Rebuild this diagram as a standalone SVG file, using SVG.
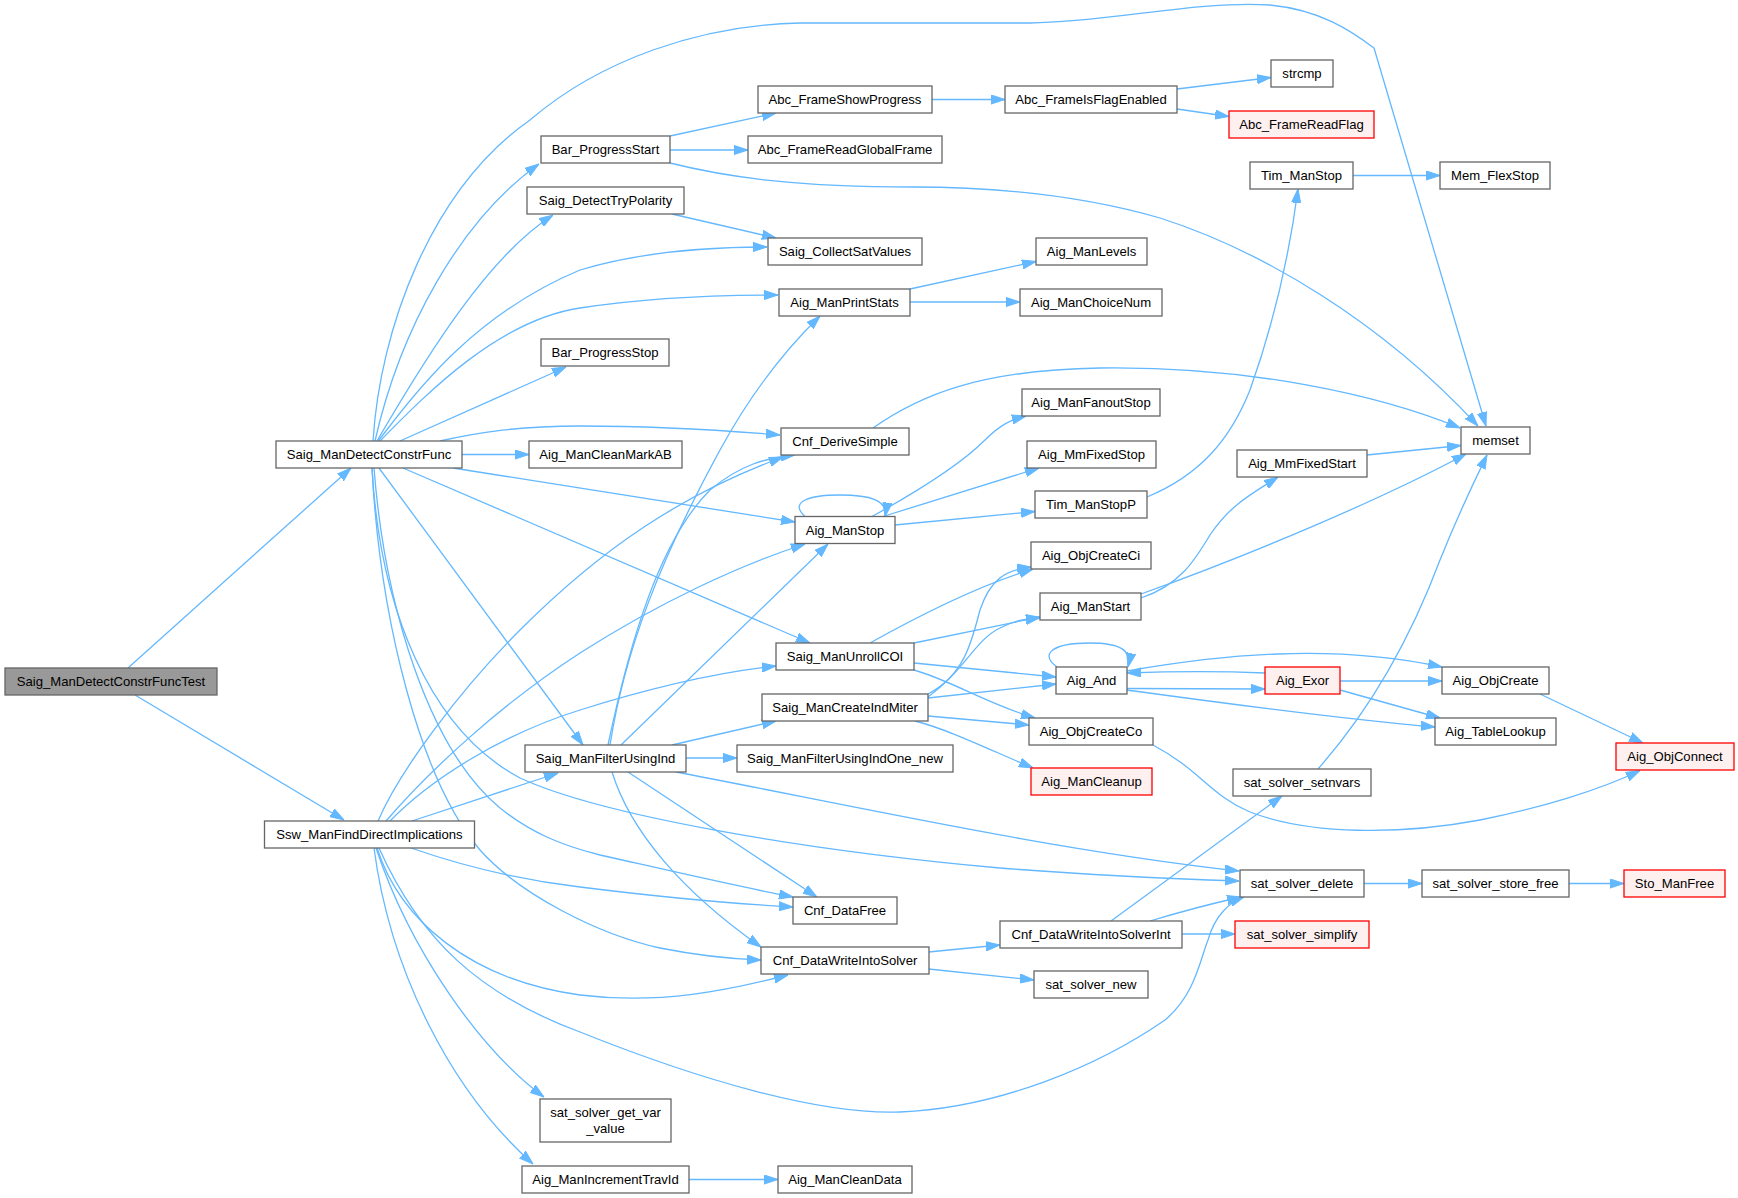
<svg xmlns="http://www.w3.org/2000/svg" width="1738" height="1198" viewBox="0 0 1738 1198">
<style>
.n rect{fill:#ffffff;stroke:#666666;stroke-width:1.3}
.r rect{fill:#fff0f0;stroke:#ff0000}
.root rect{fill:#999999}
text{font-family:"Liberation Sans",Arial,sans-serif;font-size:13.1px;text-anchor:middle;fill:#000000}
.e path{fill:none;stroke:#63b8ff;stroke-width:1.3;marker-end:url(#a)}
</style>
<defs>
<marker id="a" viewBox="0 0 14 10" refX="14" refY="5" markerWidth="14" markerHeight="10" markerUnits="userSpaceOnUse" orient="auto">
<path d="M0,0.4 L14,5 L0,9.6 Z" fill="#63b8ff" stroke="#63b8ff" stroke-width="1"/>
</marker>
</defs>
<rect width="1738" height="1198" fill="#ffffff"/>
<g id="edges" class="e">
<path d="M128,668 L351,468"/>
<path d="M135,695 L344,820"/>
<path d="M373,441 C380,330 430,190 530,120 C600,60 700,25 800,23 L1030,23 C1110,22 1200,0 1270,5 C1320,10 1350,30 1374,48 L1486,426"/>
<path d="M375,441 C400,330 460,220 539,164"/>
<path d="M377,441 C430,350 490,255 553,215"/>
<path d="M378,441 C400,415 460,320 580,270 C640,252 710,247 767,247"/>
<path d="M380,441 C430,390 500,320 580,308 C650,297 720,295 778,295"/>
<path d="M400,441 L566,367"/>
<path d="M440,441 C480,432 520,426 580,426 C660,426 720,430 780,435"/>
<path d="M462,454.5 L529,454.5"/>
<path d="M453,468 C500,476 600,492 795,522"/>
<path d="M403,468 L810,643"/>
<path d="M379,468 L583,745"/>
<path d="M372,468 C380,610 430,730 520,778 C600,815 800,850 1000,868 C1100,876 1180,879 1239,881"/>
<path d="M374,468 C385,610 430,750 500,808 C530,832 560,845 600,855 C680,873 740,887 793,897"/>
<path d="M372,468 C380,620 420,780 480,850 C520,895 600,935 660,948 C700,956 730,959 761,960"/>
<path d="M378,821 C400,770 460,690 520,630 C600,550 680,495 783,457"/>
<path d="M386,821 C430,770 500,705 580,653 C660,602 740,565 805,544"/>
<path d="M390,821 C430,780 500,735 580,710 C650,688 720,672 776,666"/>
<path d="M412,821 L558,773"/>
<path d="M411,848 C460,865 520,880 580,887 C660,897 720,903 793,907"/>
<path d="M377,848 C400,920 470,980 580,995 C660,1005 730,990 788,975"/>
<path d="M379,848 C420,940 480,995 580,1032 C700,1080 820,1115 900,1112 C1000,1108 1100,1065 1165,1020 C1195,995 1200,960 1208,940 C1215,915 1230,902 1244,897"/>
<path d="M376,848 C410,950 480,1050 544,1097"/>
<path d="M374,848 C390,970 450,1090 533,1164"/>
<path d="M610,745 C625,650 660,560 720,450 C750,395 785,350 820,316"/>
<path d="M608,745 C630,640 660,540 710,490 C740,465 765,458 795,455"/>
<path d="M621,745 L828,544"/>
<path d="M672,745 L776,721"/>
<path d="M686,758 L737,758"/>
<path d="M676,772 C850,805 1050,850 1239,871"/>
<path d="M628,772 L817,897"/>
<path d="M612,772 C630,830 680,890 761,947"/>
<path d="M670,136 L776,113"/>
<path d="M670,150 L748,150"/>
<path d="M670,163 C730,178 800,187 913,187 C1000,187 1080,195 1160,218 C1260,250 1380,320 1478,426"/>
<path d="M932,99.5 L1005,99.5"/>
<path d="M1177,89 L1271,77.5"/>
<path d="M1177,109 L1229,116.5"/>
<path d="M672,214 L776,238"/>
<path d="M910,289 L1036,261.5"/>
<path d="M910,302 L1020,302"/>
<path d="M873,428 C920,395 980,370 1100,368 C1250,366 1380,395 1460,428"/>
<path d="M805,516.5 C790,503 805,495 840,495 C870,495 888,500 885,516.5"/>
<path d="M872,516.5 C920,490 960,465 985,440 C1000,425 1010,420 1026,416"/>
<path d="M883,516.5 L1039,468"/>
<path d="M895,525 L1035,511.5"/>
<path d="M1147,497 C1200,475 1230,440 1250,390 C1275,320 1290,250 1298,189"/>
<path d="M1353,175.5 L1440,175.5"/>
<path d="M1367,455 L1461,445.5"/>
<path d="M1141,598 C1180,585 1195,560 1210,535 C1230,505 1250,495 1278,477"/>
<path d="M1141,594 C1250,555 1380,500 1466,454"/>
<path d="M870,643 C920,615 980,585 1033,569"/>
<path d="M914,643 L1040,617"/>
<path d="M914,663 L1056,677"/>
<path d="M914,670 C950,680 990,705 1035,718"/>
<path d="M928,694 C965,675 972,640 980,610 C990,580 1005,570 1031,567"/>
<path d="M928,697 C965,670 975,640 1000,628 C1015,620 1025,619 1040,618"/>
<path d="M928,698 L1056,684"/>
<path d="M928,716 L1029,725"/>
<path d="M915,721 C950,730 990,750 1033,768"/>
<path d="M1057,667 C1040,655 1050,643 1090,643 C1120,643 1132,650 1128,667"/>
<path d="M1127,688.5 L1265,689"/>
<path d="M1127,671 C1220,655 1330,643 1442,667"/>
<path d="M1127,690 C1200,700 1330,718 1435,727"/>
<path d="M1265,673 C1220,671 1180,671 1127,673"/>
<path d="M1340,681 L1442,681"/>
<path d="M1340,690 L1440,718"/>
<path d="M1540,694 L1643,743"/>
<path d="M1153,745 C1200,770 1210,795 1250,812 C1310,835 1400,835 1480,820 C1540,808 1600,790 1640,770.5"/>
<path d="M1318,769 C1370,710 1410,640 1440,560 C1460,510 1475,480 1487,455"/>
<path d="M928.5,952 L1000,945"/>
<path d="M928.5,969 L1034,980"/>
<path d="M1111,921 L1282,796"/>
<path d="M1150,921 C1180,912 1210,904 1241,897"/>
<path d="M1182,934 L1235,934"/>
<path d="M1364,883.5 L1422,883.5"/>
<path d="M1569,883.5 L1624,883.5"/>
<path d="M689,1179.5 L778,1179.5"/>
</g>
<g id="n0" class="n root"><rect x="5" y="668" width="212" height="27"/><text x="111" y="686.1">Saig_ManDetectConstrFuncTest</text></g>
<g id="n1" class="n"><rect x="276" y="441" width="186" height="27"/><text x="369" y="459.1">Saig_ManDetectConstrFunc</text></g>
<g id="n2" class="n"><rect x="264.5" y="821" width="210" height="27"/><text x="369.5" y="839.1">Ssw_ManFindDirectImplications</text></g>
<g id="n3" class="n"><rect x="541" y="136" width="129" height="27"/><text x="605.5" y="154.1">Bar_ProgressStart</text></g>
<g id="n4" class="n"><rect x="527" y="187" width="157" height="27"/><text x="605.5" y="205.1">Saig_DetectTryPolarity</text></g>
<g id="n5" class="n"><rect x="541" y="339" width="128" height="27"/><text x="605" y="357.1">Bar_ProgressStop</text></g>
<g id="n6" class="n"><rect x="529" y="441" width="153" height="27"/><text x="605.5" y="459.1">Aig_ManCleanMarkAB</text></g>
<g id="n7" class="n"><rect x="525" y="745" width="161" height="27"/><text x="605.5" y="763.1">Saig_ManFilterUsingInd</text></g>
<g id="n8" class="n"><rect x="540" y="1099" width="131" height="43"/><text x="605.5" y="1117">sat_solver_get_var</text><text x="605.5" y="1133">_value</text></g>
<g id="n9" class="n"><rect x="522" y="1166" width="167" height="27"/><text x="605.5" y="1184.1">Aig_ManIncrementTravId</text></g>
<g id="n10" class="n"><rect x="758" y="86" width="174" height="27"/><text x="845" y="104.1">Abc_FrameShowProgress</text></g>
<g id="n11" class="n"><rect x="748" y="136" width="194" height="27"/><text x="845" y="154.1">Abc_FrameReadGlobalFrame</text></g>
<g id="n12" class="n"><rect x="768" y="238" width="154" height="27"/><text x="845" y="256.1">Saig_CollectSatValues</text></g>
<g id="n13" class="n"><rect x="779" y="289" width="131" height="27"/><text x="844.5" y="307.1">Aig_ManPrintStats</text></g>
<g id="n14" class="n"><rect x="781" y="428" width="128" height="27"/><text x="845" y="446.1">Cnf_DeriveSimple</text></g>
<g id="n15" class="n"><rect x="795" y="516.5" width="100" height="27"/><text x="845" y="534.6">Aig_ManStop</text></g>
<g id="n16" class="n"><rect x="776" y="643" width="138" height="27"/><text x="845" y="661.1">Saig_ManUnrollCOI</text></g>
<g id="n17" class="n"><rect x="762" y="694" width="166" height="27"/><text x="845" y="712.1">Saig_ManCreateIndMiter</text></g>
<g id="n18" class="n"><rect x="737" y="745" width="216" height="27"/><text x="845" y="763.1">Saig_ManFilterUsingIndOne_new</text></g>
<g id="n19" class="n"><rect x="793" y="897" width="104" height="27"/><text x="845" y="915.1">Cnf_DataFree</text></g>
<g id="n20" class="n"><rect x="761" y="947" width="168" height="27"/><text x="845" y="965.1">Cnf_DataWriteIntoSolver</text></g>
<g id="n21" class="n"><rect x="778" y="1166" width="134" height="27"/><text x="845" y="1184.1">Aig_ManCleanData</text></g>
<g id="n22" class="n"><rect x="1005" y="86" width="172" height="27"/><text x="1091" y="104.1">Abc_FrameIsFlagEnabled</text></g>
<g id="n23" class="n"><rect x="1036" y="238" width="111" height="27"/><text x="1091.5" y="256.1">Aig_ManLevels</text></g>
<g id="n24" class="n"><rect x="1020" y="289" width="142" height="27"/><text x="1091" y="307.1">Aig_ManChoiceNum</text></g>
<g id="n25" class="n"><rect x="1022" y="389" width="138" height="27"/><text x="1091" y="407.1">Aig_ManFanoutStop</text></g>
<g id="n26" class="n"><rect x="1027" y="441" width="129" height="27"/><text x="1091.5" y="459.1">Aig_MmFixedStop</text></g>
<g id="n27" class="n"><rect x="1035" y="491" width="112" height="27"/><text x="1091" y="509.1">Tim_ManStopP</text></g>
<g id="n28" class="n"><rect x="1031" y="542" width="120" height="27"/><text x="1091" y="560.1">Aig_ObjCreateCi</text></g>
<g id="n29" class="n"><rect x="1040" y="593" width="101" height="27"/><text x="1090.5" y="611.1">Aig_ManStart</text></g>
<g id="n30" class="n"><rect x="1056" y="667" width="71" height="27"/><text x="1091.5" y="685.1">Aig_And</text></g>
<g id="n31" class="n"><rect x="1029" y="718" width="124" height="27"/><text x="1091" y="736.1">Aig_ObjCreateCo</text></g>
<g id="n32" class="n r"><rect x="1031" y="768" width="121" height="27"/><text x="1091.5" y="786.1">Aig_ManCleanup</text></g>
<g id="n33" class="n"><rect x="1000" y="921" width="182" height="27"/><text x="1091" y="939.1">Cnf_DataWriteIntoSolverInt</text></g>
<g id="n34" class="n"><rect x="1034" y="971" width="114" height="27"/><text x="1091" y="989.1">sat_solver_new</text></g>
<g id="n35" class="n"><rect x="1271" y="60" width="62" height="27"/><text x="1302" y="78.1">strcmp</text></g>
<g id="n36" class="n r"><rect x="1229" y="111" width="145" height="27"/><text x="1301.5" y="129.1">Abc_FrameReadFlag</text></g>
<g id="n37" class="n"><rect x="1250" y="162" width="103" height="27"/><text x="1301.5" y="180.1">Tim_ManStop</text></g>
<g id="n38" class="n"><rect x="1237" y="450" width="130" height="27"/><text x="1302" y="468.1">Aig_MmFixedStart</text></g>
<g id="n39" class="n r"><rect x="1265" y="667" width="75" height="27"/><text x="1302.5" y="685.1">Aig_Exor</text></g>
<g id="n40" class="n"><rect x="1233" y="769" width="138" height="27"/><text x="1302" y="787.1">sat_solver_setnvars</text></g>
<g id="n41" class="n"><rect x="1240" y="870" width="124" height="27"/><text x="1302" y="888.1">sat_solver_delete</text></g>
<g id="n42" class="n r"><rect x="1235" y="921" width="134" height="27"/><text x="1302" y="939.1">sat_solver_simplify</text></g>
<g id="n43" class="n"><rect x="1440" y="162" width="110" height="27"/><text x="1495" y="180.1">Mem_FlexStop</text></g>
<g id="n44" class="n"><rect x="1461" y="427" width="69" height="27"/><text x="1495.5" y="445.1">memset</text></g>
<g id="n45" class="n"><rect x="1442" y="667" width="107" height="27"/><text x="1495.5" y="685.1">Aig_ObjCreate</text></g>
<g id="n46" class="n"><rect x="1435" y="718" width="121" height="27"/><text x="1495.5" y="736.1">Aig_TableLookup</text></g>
<g id="n47" class="n"><rect x="1422" y="870" width="147" height="27"/><text x="1495.5" y="888.1">sat_solver_store_free</text></g>
<g id="n48" class="n r"><rect x="1616" y="743" width="118" height="27"/><text x="1675" y="761.1">Aig_ObjConnect</text></g>
<g id="n49" class="n r"><rect x="1624" y="870" width="101" height="27"/><text x="1674.5" y="888.1">Sto_ManFree</text></g>
</svg>
